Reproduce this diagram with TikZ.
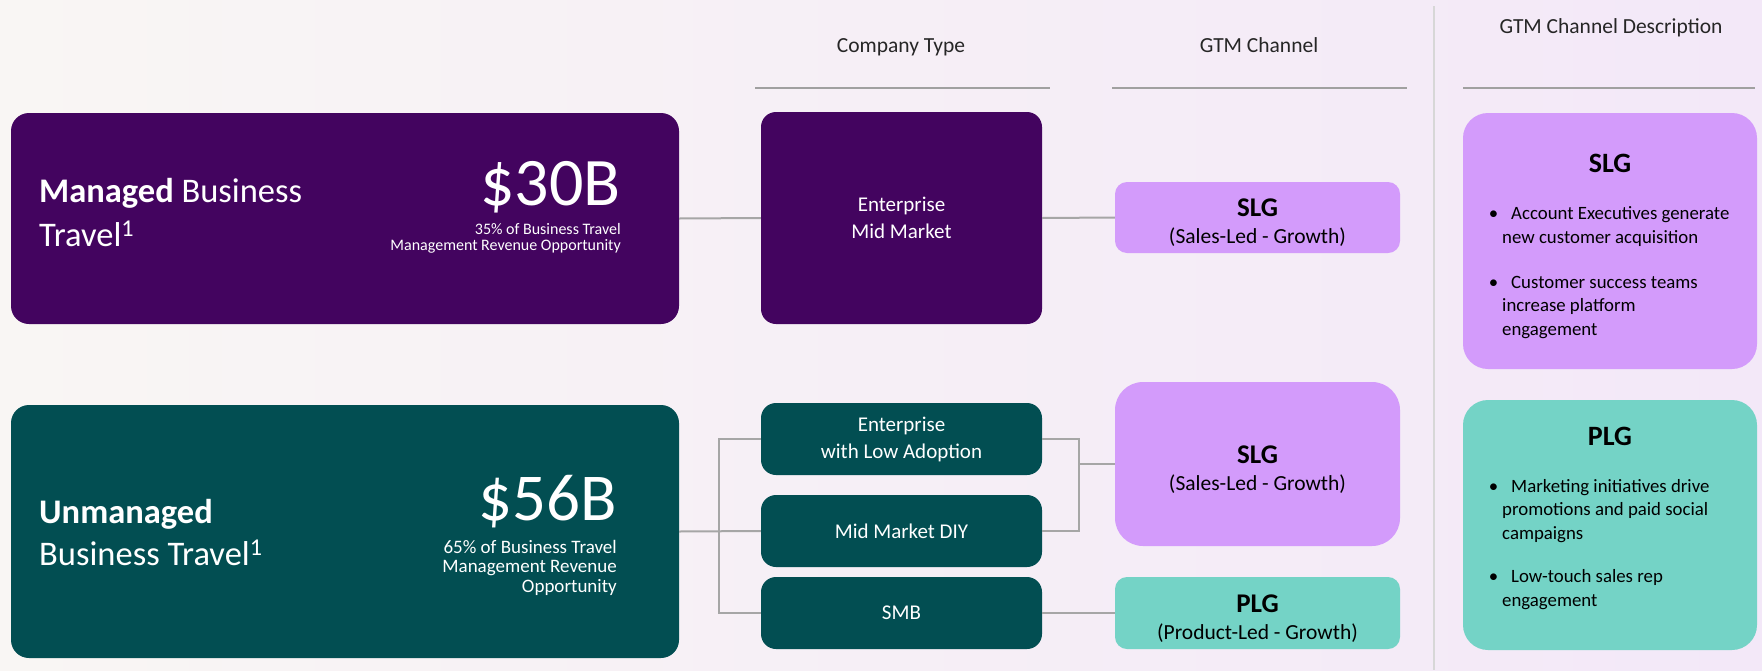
\documentclass[tikz,border=0pt]{standalone}
\usepackage{fontspec}
\setmainfont{Carlito}
\usetikzlibrary{positioning}
\definecolor{mngd}{RGB}{67,4,95}
\definecolor{unmg}{RGB}{2,78,82}
\definecolor{slgc}{RGB}{211,155,251}
\definecolor{plgc}{RGB}{116,211,198}
\definecolor{lnk}{RGB}{166,166,166}
\definecolor{rulec}{RGB}{160,160,160}
\definecolor{sepc}{RGB}{215,215,215}
\definecolor{bgl}{RGB}{249,246,244}
\definecolor{bgr}{RGB}{243,232,248}
\newcommand{\sz}[2]{\fontsize{#1}{#2}\selectfont}
\newcommand{\gtitle}[1]{{\bfseries\sz{27}{29}\rule{0pt}{28pt}#1}}
\begin{document}
\begin{tikzpicture}[x=1pt,y=-1pt,
  bigbox/.style={rounded corners=18pt,inner sep=0pt,minimum width=668pt},
  wtxt/.style={text=white,inner sep=0pt},
  cbox/.style={rounded corners=15pt,inner sep=0pt,minimum width=281pt,text=white,align=center,font=\sz{21}{27}},
  gbox/.style={inner sep=0pt,minimum width=285pt,align=center,font=\sz{21.5}{27}},
  dbox/.style={rounded corners=25pt,inner sep=0pt,minimum width=294pt},
  dtitle/.style={anchor=base,inner sep=0pt,font=\bfseries\sz{28}{30}},
  bul/.style={anchor=base west,align=left,inner sep=0pt,font=\sz{18.8}{23.5}},
  hdr/.style={anchor=base,inner sep=0pt,font=\sz{21.5}{24},text=black!85},
  link/.style={draw=lnk,line width=2pt},
  hrule/.style={draw=rulec,line width=2.5pt}]
\fill[left color=bgl,right color=bgr] (0,0) rectangle (1762,670);
\useasboundingbox (0,0) rectangle (1762,670);
% column heads
\node[hdr] (hct) at (901,52) {Company Type};
\node[hdr] (hgc) at (1259,52) {GTM Channel};
\node[hdr] (hgd) at (1611,33) {GTM Channel Description};
\draw[hrule] (755,88) -- (1050,88);
\draw[hrule] (1112,88) -- (1407,88);
\draw[hrule] (1463,88) -- (1755,88);
\draw[sepc,line width=1.2pt] (1434,6) -- (1434,670);
% market boxes
\node[bigbox,fill=mngd,minimum height=211pt] (managed) at (345,218.5) {};
\node[bigbox,fill=unmg,minimum height=253pt] (unmanaged) at (345,531.5) {};
\node[wtxt,anchor=base west,font=\sz{34.5}{40}] (mt1) at (39,202) {\textbf{Managed} Business};
\node[wtxt,anchor=base west,font=\sz{34.5}{40}] (mt2) at (39,246) {Travel\textsuperscript{1}};
\node[wtxt,anchor=base east,font=\sz{68}{72}] (mval) at (621,205) {\$30B};
\node[wtxt,anchor=base east,font=\sz{16}{17}] (ms1) at (621,234) {35\% of Business Travel};
\node[wtxt,anchor=base east,font=\sz{16}{17}] (ms2) at (621,250) {Management Revenue Opportunity};
\node[wtxt,anchor=base west,font=\bfseries\sz{34.5}{40}] (ut1) at (39,523) {Unmanaged};
\node[wtxt,anchor=base west,font=\sz{34.5}{40}] (ut2) at (39,565) {Business Travel\textsuperscript{1}};
\node[wtxt,anchor=base east,font=\sz{67}{72}] (uval) at (617,520) {\$56B};
\node[wtxt,anchor=base east,font=\sz{19}{20}] (us1) at (617,553) {65\% of Business Travel};
\node[wtxt,anchor=base east,font=\sz{19}{20}] (us2) at (617,572) {Management Revenue};
\node[wtxt,anchor=base east,font=\sz{19}{20}] (us3) at (617,592) {Opportunity};
% company types
\node[cbox,fill=mngd,minimum height=212pt] (ent1) at (901.5,218) {Enterprise\\Mid Market};
\node[cbox,fill=unmg,minimum height=72pt] (ent2) at (901.5,439) {Enterprise\\with Low Adoption};
\node[cbox,fill=unmg,minimum height=72pt] (diy) at (901.5,531) {Mid Market DIY};
\node[cbox,fill=unmg,minimum height=72pt] (smb) at (901.5,613) {SMB};
% channels
\node[gbox,fill=slgc,rounded corners=12pt,minimum height=71pt] (slg1) at (1257.5,217.5) {\gtitle{SLG}\\(Sales-Led - Growth)};
\node[gbox,fill=slgc,rounded corners=28pt,minimum height=164pt] (slg2) at (1257.5,464) {\gtitle{SLG}\\(Sales-Led - Growth)};
\node[gbox,fill=plgc,rounded corners=12pt,minimum height=72pt] (plg) at (1257.5,613) {\gtitle{PLG}\\(Product-Led - Growth)};
% descriptions
\node[dbox,fill=slgc,minimum height=256pt] (slgd) at (1610,241) {};
\node[dtitle] (slgdt) at (1610,172) {SLG};
\node[bul] (slgb1) at (1502,243) {\llap{\textbullet\hspace{4pt}}\hspace{9pt}Account Executives generate\\new customer acquisition};
\node[bul] (slgb2) at (1502,335) {\llap{\textbullet\hspace{4pt}}\hspace{9pt}Customer success teams\\increase platform\\engagement};
\node[dbox,fill=plgc,minimum height=250pt] (plgd) at (1610,525) {};
\node[dtitle] (plgdt) at (1610,445) {PLG};
\node[bul] (plgb1) at (1502,539) {\llap{\textbullet\hspace{4pt}}\hspace{9pt}Marketing initiatives drive\\promotions and paid social\\campaigns};
\node[bul] (plgb2) at (1502,606) {\llap{\textbullet\hspace{4pt}}\hspace{9pt}Low-touch sales rep\\engagement};
% links
\coordinate (lbr) at (719,531);
\coordinate (rbr) at (1079,464);
\draw[link] (managed.east) -- (ent1.west);
\draw[link] (ent1.east) -- (slg1.west);
\draw[link] (unmanaged.east) -- (diy.west);
\draw[link] (ent2.west) -| (lbr) |- (smb.west);
\draw[link] (ent2.east) -| (rbr) |- (diy.east);
\draw[link] (rbr) -- (slg2.west);
\draw[link] (smb.east) -- (plg.west);
\end{tikzpicture}
\end{document}
